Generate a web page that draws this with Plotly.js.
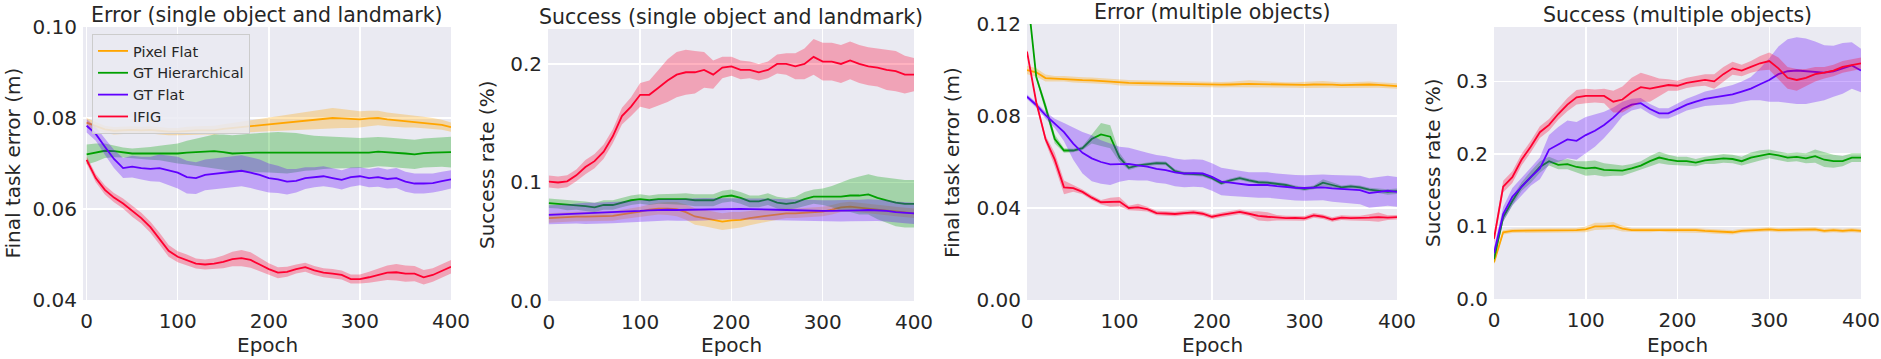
<!DOCTYPE html>
<html>
<head>
<meta charset="utf-8">
<script src="https://cdn.plot.ly/plotly-3.0.1.min.js"></script>
<style>
  html, body { margin: 0; padding: 0; background: #fff; }
  #plot { width: 1881px; height: 359px; }
</style>
</head>
<body>
<div id="plot"></div>
<script>
// epochs sampled every 10
const epochs = [0,10,20,30,40,50,60,70,80,90,100,110,120,130,140,150,160,170,180,190,200,
  210,220,230,240,250,260,270,280,290,300,310,320,330,340,350,360,370,380,390,400];

const seriesNames = ["Pixel Flat", "GT Hierarchical", "GT Flat", "IFIG"];

// --- Error (single object and landmark): mean, half band width
const p1Pixel = [0.0790,0.0783,0.0775,0.0772,0.0773,0.0774,0.0773,0.0774,0.0772,0.0770,0.0770,0.0772,0.0773,0.0773,0.0773,0.0776,0.0778,0.0780,0.0782,0.0784,0.0785,
  0.0787,0.0790,0.0792,0.0794,0.0796,0.0798,0.0800,0.0799,0.0798,0.0797,0.0799,0.0800,0.0797,0.0795,0.0793,0.0792,0.0790,0.0788,0.0785,0.0780];
const p1PixelW = [0.0010,0.0009,0.0008,0.0008,0.0008,0.0008,0.0008,0.0008,0.0008,0.0008,0.0008,0.0009,0.0009,0.0009,0.0010,0.0010,0.0011,0.0012,0.0013,0.0014,0.0015,
  0.0016,0.0017,0.0018,0.0019,0.0020,0.0021,0.0022,0.0021,0.0020,0.0018,0.0017,0.0016,0.0015,0.0015,0.0014,0.0013,0.0013,0.0012,0.0011,0.0010];
const p1GTH = [0.0720,0.0724,0.0728,0.0727,0.0724,0.0722,0.0722,0.0722,0.0723,0.0722,0.0722,0.0724,0.0725,0.0726,0.0727,0.0725,0.0722,0.0723,0.0724,0.0724,0.0724,
  0.0724,0.0723,0.0724,0.0724,0.0723,0.0724,0.0724,0.0723,0.0723,0.0723,0.0724,0.0726,0.0725,0.0723,0.0722,0.0720,0.0723,0.0724,0.0725,0.0725];
const p1GTHW = [0.0022,0.0020,0.0016,0.0013,0.0011,0.0011,0.0012,0.0014,0.0016,0.0019,0.0022,0.0026,0.0030,0.0034,0.0037,0.0039,0.0040,0.0041,0.0042,0.0043,0.0044,
  0.0045,0.0045,0.0043,0.0040,0.0038,0.0036,0.0035,0.0034,0.0033,0.0033,0.0033,0.0032,0.0032,0.0032,0.0032,0.0032,0.0032,0.0032,0.0032,0.0034];
const p1GTF = [0.0783,0.0765,0.0737,0.0710,0.0690,0.0693,0.0690,0.0688,0.0690,0.0685,0.0680,0.0670,0.0668,0.0675,0.0677,0.0680,0.0682,0.0684,0.0680,0.0675,0.0668,
  0.0665,0.0660,0.0662,0.0668,0.0670,0.0672,0.0668,0.0664,0.0670,0.0672,0.0668,0.0670,0.0666,0.0668,0.0660,0.0656,0.0656,0.0657,0.0661,0.0665];
const p1GTFW = [0.0015,0.0015,0.0018,0.0020,0.0022,0.0024,0.0025,0.0027,0.0030,0.0033,0.0035,0.0036,0.0035,0.0034,0.0034,0.0034,0.0034,0.0034,0.0034,0.0034,0.0032,
  0.0030,0.0028,0.0026,0.0024,0.0022,0.0022,0.0021,0.0021,0.0021,0.0020,0.0020,0.0021,0.0021,0.0022,0.0022,0.0022,0.0022,0.0021,0.0021,0.0020];
const p1IFIG = [0.0708,0.0668,0.0642,0.0625,0.0612,0.0595,0.0580,0.0560,0.0535,0.0508,0.0495,0.0488,0.0480,0.0478,0.0480,0.0484,0.0490,0.0492,0.0488,0.0478,0.0468,
  0.0460,0.0462,0.0468,0.0472,0.0465,0.0460,0.0458,0.0455,0.0446,0.0446,0.0450,0.0455,0.0460,0.0461,0.0458,0.0458,0.0450,0.0455,0.0464,0.0473];
const p1IFIGW = [0.0008,0.0009,0.0010,0.0010,0.0011,0.0012,0.0012,0.0012,0.0013,0.0013,0.0012,0.0012,0.0011,0.0011,0.0012,0.0014,0.0016,0.0018,0.0017,0.0015,0.0013,
  0.0012,0.0011,0.0010,0.0010,0.0010,0.0010,0.0010,0.0010,0.0010,0.0010,0.0012,0.0014,0.0016,0.0018,0.0018,0.0017,0.0016,0.0015,0.0015,0.0015];

// --- Success (single object and landmark)
const p2Pixel = [0.070,0.0705,0.071,0.0712,0.0712,0.0713,0.0713,0.0718,0.073,0.074,0.0755,0.077,0.078,0.078,0.0775,0.075,0.0713,0.070,0.0685,0.067,0.068,
  0.0685,0.070,0.071,0.0725,0.0735,0.074,0.074,0.0745,0.075,0.0755,0.077,0.079,0.0797,0.079,0.078,0.0775,0.0763,0.0755,0.075,0.074];
const p2PixelW = [0.004,0.004,0.004,0.004,0.004,0.004,0.004,0.004,0.004,0.004,0.004,0.0045,0.005,0.0055,0.006,0.0065,0.007,0.007,0.007,0.007,0.007,
  0.0065,0.006,0.0055,0.005,0.0045,0.004,0.004,0.004,0.004,0.004,0.004,0.004,0.004,0.004,0.004,0.004,0.004,0.004,0.004,0.004];
const p2GTH = [0.0825,0.082,0.081,0.081,0.080,0.079,0.081,0.081,0.083,0.085,0.086,0.085,0.086,0.086,0.086,0.086,0.085,0.085,0.085,0.088,0.089,
  0.087,0.084,0.084,0.086,0.083,0.082,0.083,0.086,0.088,0.088,0.088,0.088,0.089,0.089,0.090,0.087,0.085,0.083,0.082,0.082];
const p2GTHW = [0.004,0.004,0.0045,0.004,0.004,0.004,0.004,0.004,0.004,0.004,0.004,0.004,0.004,0.004,0.0045,0.005,0.005,0.005,0.005,0.005,0.005,
  0.005,0.005,0.005,0.005,0.005,0.005,0.005,0.006,0.006,0.007,0.009,0.012,0.014,0.016,0.017,0.018,0.019,0.020,0.020,0.020];
const p2GTF = [0.0727,0.073,0.0735,0.0738,0.074,0.074,0.0742,0.0745,0.075,0.0755,0.076,0.0765,0.077,0.077,0.0768,0.077,0.0772,0.0775,0.0778,0.078,0.078,
  0.0778,0.0775,0.0775,0.0772,0.077,0.0768,0.0765,0.0762,0.0762,0.076,0.076,0.076,0.0762,0.0765,0.0768,0.0765,0.076,0.075,0.0745,0.074];
const p2GTFW = [0.008,0.008,0.008,0.0085,0.009,0.009,0.009,0.009,0.009,0.009,0.009,0.009,0.009,0.009,0.009,0.0095,0.0095,0.0095,0.009,0.009,0.009,
  0.009,0.009,0.009,0.009,0.009,0.009,0.009,0.009,0.009,0.009,0.009,0.009,0.009,0.009,0.009,0.009,0.009,0.009,0.009,0.009];
const p2IFIG = [0.1008,0.100,0.101,0.106,0.113,0.118,0.126,0.139,0.156,0.164,0.174,0.174,0.180,0.186,0.191,0.193,0.193,0.195,0.191,0.197,0.198,
  0.195,0.195,0.193,0.195,0.200,0.200,0.198,0.200,0.206,0.202,0.202,0.200,0.203,0.200,0.198,0.197,0.195,0.194,0.191,0.191];
const p2IFIGW = [0.005,0.005,0.005,0.005,0.006,0.006,0.006,0.006,0.007,0.008,0.010,0.012,0.015,0.018,0.019,0.019,0.018,0.015,0.012,0.009,0.008,
  0.008,0.007,0.007,0.007,0.008,0.009,0.011,0.013,0.015,0.016,0.016,0.016,0.016,0.016,0.016,0.016,0.017,0.017,0.016,0.014];

// --- Error (multiple objects)
const p3Pixel = [0.1000,0.0990,0.0965,0.0962,0.0962,0.0958,0.0956,0.0955,0.0952,0.0950,0.0945,0.0944,0.0943,0.0942,0.0942,0.0940,0.0941,0.0940,0.0938,0.0938,0.0937,
  0.0936,0.0937,0.0939,0.0940,0.0939,0.0938,0.0937,0.0935,0.0935,0.0935,0.0937,0.0938,0.0936,0.0934,0.0935,0.0937,0.0937,0.0935,0.0933,0.0930];
const p3PixelW = [0.0018,0.0018,0.0015,0.0012,0.0012,0.0012,0.0012,0.0012,0.0012,0.0012,0.0012,0.0012,0.0012,0.0012,0.0012,0.0012,0.0012,0.0012,0.0012,0.0012,0.0012,
  0.0012,0.0012,0.0014,0.0015,0.0014,0.0012,0.0012,0.0012,0.0012,0.0013,0.0014,0.0014,0.0013,0.0012,0.0012,0.0013,0.0013,0.0012,0.0012,0.0012];
const p3GTH = [0.135,0.097,0.084,0.070,0.065,0.065,0.066,0.070,0.072,0.071,0.062,0.0575,0.0585,0.059,0.0595,0.0594,0.056,0.055,0.0548,0.0545,0.053,
  0.0508,0.052,0.053,0.052,0.0512,0.051,0.0505,0.050,0.049,0.0483,0.049,0.051,0.050,0.049,0.0494,0.049,0.048,0.0475,0.047,0.0473];
const p3GTHW = [0.001,0.001,0.002,0.002,0.001,0.0008,0.0008,0.002,0.005,0.005,0.002,0.001,0.0008,0.0008,0.0008,0.0008,0.0008,0.0008,0.0008,0.0008,0.0008,
  0.0008,0.0008,0.0008,0.0008,0.0008,0.0008,0.0008,0.0008,0.0008,0.0008,0.0008,0.0015,0.0012,0.0008,0.0008,0.0008,0.0008,0.0010,0.0012,0.0012];
const p3GTF = [0.0884,0.0848,0.0804,0.0768,0.073,0.068,0.064,0.0616,0.060,0.059,0.059,0.0592,0.0585,0.058,0.057,0.0565,0.0555,0.055,0.0552,0.055,0.0535,
  0.0515,0.051,0.0505,0.050,0.050,0.050,0.0495,0.049,0.0488,0.0487,0.0488,0.049,0.0485,0.0483,0.048,0.0478,0.0465,0.047,0.0475,0.047];
const p3GTFW = [0.001,0.0012,0.0015,0.002,0.004,0.007,0.009,0.010,0.0095,0.009,0.0076,0.007,0.0065,0.006,0.006,0.006,0.006,0.006,0.006,0.006,0.006,
  0.006,0.0058,0.0056,0.0055,0.0055,0.0055,0.0055,0.0055,0.0055,0.0055,0.0055,0.0056,0.0058,0.006,0.006,0.0062,0.0064,0.0065,0.0065,0.0065];
const p3IFIG = [0.108,0.086,0.070,0.061,0.049,0.0486,0.047,0.0445,0.0425,0.0425,0.0428,0.040,0.0403,0.0395,0.0378,0.0376,0.0374,0.0378,0.0381,0.0375,0.0362,
  0.0370,0.0378,0.0383,0.0375,0.0366,0.0362,0.0358,0.0356,0.0357,0.0355,0.0368,0.0362,0.0350,0.0358,0.0356,0.0356,0.0358,0.0360,0.0358,0.0360];
const p3IFIGW = [0.001,0.001,0.0015,0.003,0.003,0.0015,0.001,0.001,0.001,0.002,0.002,0.001,0.0015,0.001,0.001,0.001,0.001,0.001,0.001,0.001,0.001,
  0.001,0.001,0.001,0.001,0.002,0.002,0.0012,0.001,0.001,0.001,0.001,0.001,0.001,0.001,0.001,0.001,0.0015,0.002,0.001,0.001];

// --- Success (multiple objects)
const p4Pixel = [0.0505,0.092,0.094,0.094,0.094,0.094,0.095,0.095,0.095,0.095,0.096,0.100,0.100,0.101,0.097,0.095,0.095,0.095,0.096,0.095,0.095,
  0.095,0.095,0.094,0.093,0.092,0.092,0.094,0.095,0.096,0.096,0.095,0.095,0.096,0.096,0.096,0.094,0.095,0.094,0.095,0.094];
const p4PixelW = [0.003,0.003,0.003,0.003,0.003,0.003,0.003,0.003,0.003,0.003,0.004,0.005,0.005,0.005,0.004,0.003,0.003,0.003,0.003,0.003,0.003,
  0.003,0.003,0.003,0.003,0.003,0.003,0.003,0.003,0.003,0.003,0.003,0.003,0.003,0.003,0.003,0.003,0.003,0.003,0.003,0.003];
const p4GTH = [0.055,0.113,0.135,0.155,0.168,0.182,0.190,0.185,0.186,0.182,0.180,0.181,0.178,0.178,0.177,0.180,0.184,0.190,0.195,0.192,0.190,
  0.190,0.188,0.191,0.192,0.194,0.193,0.190,0.195,0.198,0.200,0.198,0.195,0.196,0.194,0.197,0.192,0.190,0.190,0.195,0.195];
const p4GTHW = [0.005,0.006,0.006,0.006,0.008,0.008,0.006,0.006,0.007,0.008,0.010,0.010,0.009,0.008,0.007,0.006,0.006,0.007,0.008,0.007,0.006,
  0.006,0.005,0.005,0.006,0.006,0.006,0.006,0.007,0.007,0.006,0.006,0.006,0.006,0.007,0.009,0.010,0.009,0.007,0.006,0.006];
const p4GTF = [0.063,0.117,0.141,0.155,0.168,0.180,0.206,0.213,0.220,0.218,0.226,0.232,0.240,0.250,0.262,0.268,0.270,0.262,0.256,0.256,0.262,
  0.268,0.272,0.276,0.278,0.280,0.282,0.286,0.290,0.296,0.302,0.310,0.314,0.315,0.314,0.313,0.312,0.314,0.318,0.322,0.315];
const p4GTFW = [0.008,0.010,0.012,0.012,0.012,0.015,0.020,0.024,0.026,0.026,0.025,0.022,0.018,0.014,0.010,0.008,0.007,0.007,0.007,0.007,0.008,
  0.008,0.009,0.010,0.011,0.012,0.013,0.014,0.016,0.022,0.030,0.038,0.044,0.046,0.045,0.042,0.038,0.035,0.035,0.032,0.030];
const p4IFIG = [0.083,0.155,0.168,0.192,0.210,0.230,0.240,0.255,0.268,0.278,0.280,0.280,0.280,0.272,0.275,0.285,0.292,0.290,0.292,0.295,0.294,
  0.298,0.300,0.302,0.300,0.310,0.318,0.315,0.320,0.325,0.328,0.318,0.305,0.302,0.305,0.310,0.312,0.315,0.320,0.322,0.325];
const p4IFIGW = [0.006,0.008,0.008,0.008,0.008,0.008,0.008,0.008,0.009,0.010,0.010,0.009,0.010,0.015,0.018,0.020,0.020,0.018,0.012,0.008,0.007,
  0.007,0.007,0.008,0.010,0.010,0.009,0.008,0.008,0.010,0.012,0.015,0.015,0.015,0.012,0.010,0.008,0.008,0.008,0.008,0.008];

const colors = ["#FFA500", "#00A000", "#6000FF", "#FF0030"];
const fills = ["rgba(255,165,0,0.3)", "rgba(0,160,0,0.3)", "rgba(96,0,255,0.3)", "rgba(255,0,48,0.3)"];

const panels = [
  { title: "Error (single object and landmark)", ytitle: "Final task error (m)",
    series: [[p1Pixel, p1PixelW], [p1GTH, p1GTHW], [p1GTF, p1GTFW], [p1IFIG, p1IFIGW]],
    x: [83, 451], y: [27, 300], xr: [-4, 400], yr: [0.04, 0.10], ytick: [0.04, 0.06, 0.08, 0.10], yfmt: ".2f", ytx: 12 },
  { title: "Success (single object and landmark)", ytitle: "Success rate (%)",
    series: [[p2Pixel, p2PixelW], [p2GTH, p2GTHW], [p2GTF, p2GTFW], [p2IFIG, p2IFIGW]],
    x: [548, 914], y: [29, 301], xr: [-1, 400], yr: [0, 0.2295], ytick: [0, 0.1, 0.2], yfmt: ".1f", ytx: 487 },
  { title: "Error (multiple objects)", ytitle: "Final task error (m)",
    series: [[p3Pixel, p3PixelW], [p3GTH, p3GTHW], [p3GTF, p3GTFW], [p3IFIG, p3IFIGW]],
    x: [1027, 1397], y: [24, 300], xr: [0, 400], yr: [0, 0.12], ytick: [0, 0.04, 0.08, 0.12], yfmt: ".2f", ytx: 952 },
  { title: "Success (multiple objects)", ytitle: "Success rate (%)",
    series: [[p4Pixel, p4PixelW], [p4GTH, p4GTHW], [p4GTF, p4GTFW], [p4IFIG, p4IFIGW]],
    x: [1494, 1861], y: [27, 299], xr: [0, 400], yr: [0, 0.375], ytick: [0, 0.1, 0.2, 0.3], yfmt: ".1f", ytx: 1433 }
];

const W = 1881, H = 359;
const FONT = "DejaVu Sans, sans-serif";
const TXT = "#262626";

const data = [];
const annotations = [];
const layout = {
  width: W, height: H,
  margin: { l: 0, r: 0, t: 0, b: 0 },
  paper_bgcolor: "#ffffff",
  plot_bgcolor: "#EAEAF2",
  font: { family: FONT, color: TXT, size: 20 },
  showlegend: true,
  legend: {
    x: 92 / W, y: 1 - 34 / H, xanchor: "left", yanchor: "top", traceorder: "normal",
    bgcolor: "rgba(234,234,242,0.85)", bordercolor: "#cccccc", borderwidth: 1,
    font: { family: FONT, size: 14.5, color: TXT }
  },
  annotations: annotations
};

panels.forEach((p, i) => {
  const n = i === 0 ? "" : String(i + 1);
  const xa = "x" + n, ya = "y" + n;
  p.series.forEach(([mean, w], k) => {
    const lo = mean.map((m, j) => m - w[j]);
    const hi = mean.map((m, j) => m + w[j]);
    data.push({ type: "scatter", mode: "lines", x: epochs, y: lo, xaxis: xa, yaxis: ya,
      line: { width: 0, color: colors[k] }, showlegend: false, hoverinfo: "skip" });
    data.push({ type: "scatter", mode: "lines", x: epochs, y: hi, xaxis: xa, yaxis: ya,
      line: { width: 0, color: colors[k] }, fill: "tonexty", fillcolor: fills[k], showlegend: false, hoverinfo: "skip" });
    data.push({ type: "scatter", mode: "lines", x: epochs, y: mean, xaxis: xa, yaxis: ya,
      line: { width: 1.8, color: colors[k] }, name: seriesNames[k], showlegend: i === 0 });
  });

  const axBase = {
    showgrid: true, gridcolor: "#ffffff", gridwidth: 1.5, zeroline: false, showline: false,
    ticks: "", tickfont: { family: FONT, size: 20, color: TXT }, fixedrange: true
  };
  layout["xaxis" + n] = Object.assign({}, axBase, {
    domain: [p.x[0] / W, p.x[1] / W], anchor: ya, range: p.xr,
    tickvals: [0, 100, 200, 300, 400], ticklabelstandoff: 7
  });
  layout["yaxis" + n] = Object.assign({}, axBase, {
    domain: [1 - p.y[1] / H, 1 - p.y[0] / H], anchor: xa, range: p.yr,
    tickvals: p.ytick, tickformat: p.yfmt, ticklabelstandoff: 5
  });

  const cx = (p.x[0] + p.x[1]) / 2 / W;
  annotations.push({ text: p.title, xref: "paper", yref: "paper", x: cx, y: 1 - p.y[0] / H,
    xanchor: "center", yanchor: "bottom", yshift: -2, showarrow: false,
    font: { family: FONT, size: 20.5, color: TXT } });
  annotations.push({ text: "Epoch", xref: "paper", yref: "paper", x: cx, y: 1 - 345 / H,
    xanchor: "center", yanchor: "middle", showarrow: false,
    font: { family: FONT, size: 20, color: TXT } });
  annotations.push({ text: p.ytitle, xref: "paper", yref: "paper", x: p.ytx / W,
    y: 1 - (p.y[0] + p.y[1]) / 2 / H, xanchor: "center", yanchor: "middle", textangle: -90,
    showarrow: false, font: { family: FONT, size: 20, color: TXT } });
});

Plotly.newPlot("plot", data, layout, { staticPlot: true });
</script>
</body>
</html>
